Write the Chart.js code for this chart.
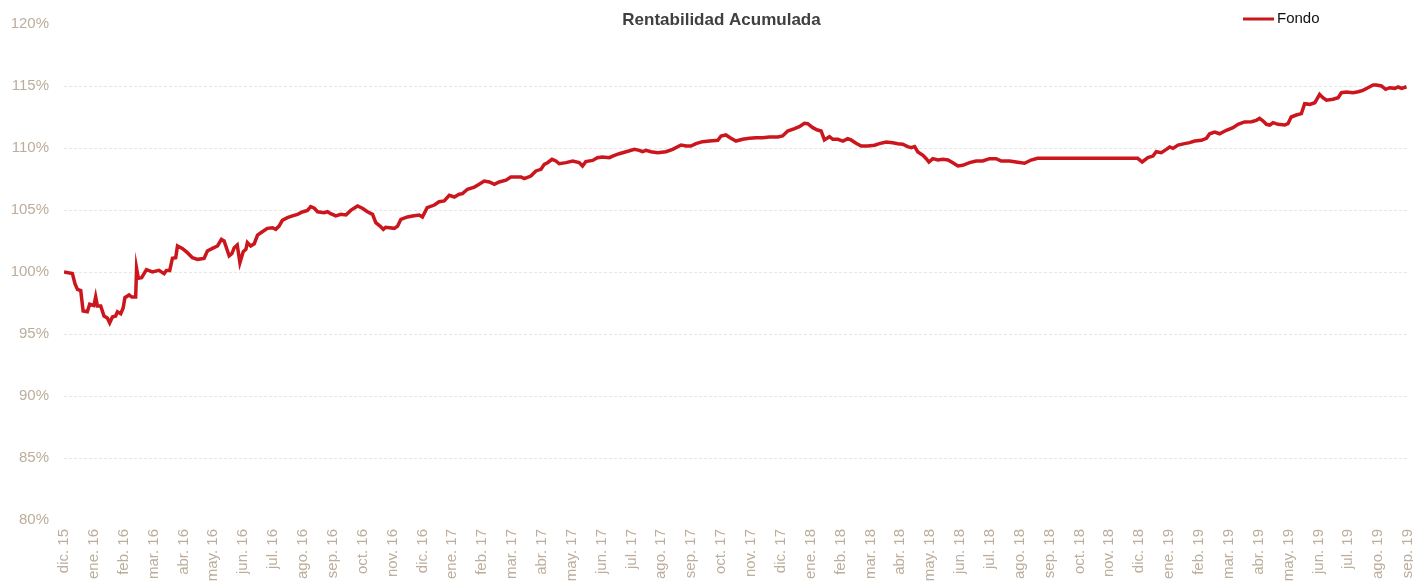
<!DOCTYPE html>
<html>
<head>
<meta charset="utf-8">
<title>Rentabilidad Acumulada</title>
<script src="https://cdn.jsdelivr.net/npm/chart.js@4.4.0/dist/chart.umd.min.js"></script>
<style>
    body { margin: 0; background: #fff; }
    #wrap { width: 1413px; height: 581px; }
</style>
</head>
<body>
<div id="wrap"><canvas id="grafico" width="1413" height="581"></canvas></div>
<script>
// Etiquetas del eje X (una por mes, desde dic. 15)
const etiquetas = [
    'dic. 15', 'ene. 16', 'feb. 16', 'mar. 16', 'abr. 16', 'may. 16', 'jun. 16', 'jul. 16',
    'ago. 16', 'sep. 16', 'oct. 16', 'nov. 16', 'dic. 16', 'ene. 17', 'feb. 17', 'mar. 17',
    'abr. 17', 'may. 17', 'jun. 17', 'jul. 17', 'ago. 17', 'sep. 17', 'oct. 17', 'nov. 17',
    'dic. 17', 'ene. 18', 'feb. 18', 'mar. 18', 'abr. 18', 'may. 18', 'jun. 18', 'jul. 18',
    'ago. 18', 'sep. 18', 'oct. 18', 'nov. 18', 'dic. 18', 'ene. 19', 'feb. 19', 'mar. 19',
    'abr. 19', 'may. 19', 'jun. 19', 'jul. 19', 'ago. 19', 'sep. 19'
];

// Posicion en meses desde dic. 15
const meses = [
    0.00, 0.28, 0.37, 0.45, 0.56, 0.64, 0.78, 0.86, 1.00, 1.06, 1.12, 1.23, 1.34, 1.45, 1.53, 1.62,
    1.73, 1.79, 1.90, 1.98, 2.04, 2.18, 2.27, 2.40, 2.43, 2.49, 2.60, 2.76, 2.96, 3.18, 3.35, 3.43,
    3.54, 3.63, 3.74, 3.80, 3.96, 4.13, 4.30, 4.47, 4.69, 4.80, 4.97, 5.14, 5.27, 5.36, 5.53, 5.62,
    5.70, 5.80, 5.89, 6.00, 6.09, 6.14, 6.25, 6.37, 6.48, 6.64, 6.81, 6.98, 7.09, 7.20, 7.31, 7.48,
    7.65, 7.82, 7.98, 8.15, 8.26, 8.38, 8.49, 8.71, 8.82, 8.93, 9.10, 9.27, 9.44, 9.60, 9.83, 9.99,
    10.16, 10.33, 10.44, 10.58, 10.69, 10.77, 11.06, 11.17, 11.28, 11.50, 11.67, 11.89, 12.00, 12.16, 12.40, 12.56,
    12.73, 12.90, 13.07, 13.23, 13.34, 13.51, 13.74, 13.90, 14.07, 14.24, 14.41, 14.57, 14.80, 14.96, 15.13, 15.30,
    15.41, 15.63, 15.80, 15.97, 16.08, 16.19, 16.34, 16.47, 16.58, 16.81, 17.03, 17.25, 17.36, 17.47, 17.70, 17.86,
    18.03, 18.26, 18.37, 18.59, 18.82, 19.10, 19.26, 19.37, 19.49, 19.65, 19.88, 20.15, 20.38, 20.66, 20.83, 20.99,
    21.16, 21.38, 21.61, 21.89, 22.00, 22.16, 22.33, 22.50, 22.72, 22.95, 23.17, 23.39, 23.62, 23.90, 24.06, 24.23,
    24.46, 24.62, 24.79, 24.90, 25.07, 25.23, 25.35, 25.46, 25.63, 25.74, 25.91, 26.08, 26.24, 26.35, 26.52, 26.69,
    26.91, 27.14, 27.30, 27.53, 27.75, 27.92, 28.08, 28.25, 28.37, 28.48, 28.59, 28.76, 28.87, 28.96, 29.09, 29.26,
    29.43, 29.60, 29.76, 29.93, 30.09, 30.32, 30.54, 30.76, 30.99, 31.21, 31.38, 31.66, 31.88, 32.16, 32.38, 32.60,
    35.95, 36.10, 36.29, 36.46, 36.57, 36.74, 36.91, 37.02, 37.13, 37.30, 37.52, 37.69, 37.86, 38.08, 38.25, 38.36,
    38.53, 38.69, 38.92, 39.14, 39.31, 39.53, 39.76, 39.92, 40.03, 40.15, 40.26, 40.37, 40.48, 40.65, 40.87, 40.98,
    41.09, 41.26, 41.43, 41.54, 41.71, 41.88, 42.04, 42.15, 42.27, 42.49, 42.66, 42.77, 42.94, 43.16, 43.33, 43.49,
    43.66, 43.83, 43.94, 44.11, 44.25, 44.39, 44.56, 44.67, 44.79, 44.95
];

// Rentabilidad acumulada del fondo (%)
const fondo = [
    100.00, 99.87, 99.03, 98.60, 98.50, 96.85, 96.80, 97.40, 97.30, 98.00, 97.25, 97.25, 96.45, 96.30, 95.90, 96.37,
    96.45, 96.80, 96.64, 97.10, 97.93, 98.15, 97.98, 97.98, 100.30, 99.50, 99.54, 100.19, 100.00, 100.13, 99.87, 100.13,
    100.13, 101.10, 101.15, 102.10, 101.90, 101.56, 101.15, 101.02, 101.10, 101.70, 101.90, 102.10, 102.63, 102.50, 101.30, 101.48,
    101.96, 102.18, 100.75, 101.64, 101.83, 102.37, 102.10, 102.28, 102.98, 103.25, 103.52, 103.57, 103.44, 103.70, 104.17, 104.38,
    104.52, 104.65, 104.84, 104.97, 105.27, 105.14, 104.86, 104.78, 104.86, 104.70, 104.52, 104.65, 104.60, 104.97, 105.32, 105.14,
    104.86, 104.65, 103.98, 103.70, 103.44, 103.60, 103.52, 103.70, 104.25, 104.44, 104.52, 104.60, 104.44, 105.19, 105.40, 105.67,
    105.73, 106.18, 106.05, 106.27, 106.32, 106.67, 106.85, 107.07, 107.34, 107.26, 107.07, 107.26, 107.40, 107.66, 107.66, 107.66,
    107.53, 107.74, 108.15, 108.28, 108.68, 108.81, 109.09, 108.95, 108.73, 108.82, 108.95, 108.82, 108.55, 108.90, 109.00, 109.22,
    109.27, 109.22, 109.35, 109.54, 109.70, 109.89, 109.81, 109.70, 109.81, 109.70, 109.62, 109.70, 109.89, 110.24, 110.16, 110.16,
    110.35, 110.51, 110.56, 110.62, 110.97, 111.05, 110.78, 110.56, 110.70, 110.78, 110.83, 110.83, 110.89, 110.89, 110.97, 111.37,
    111.56, 111.72, 111.99, 111.96, 111.64, 111.45, 111.37, 110.65, 110.91, 110.70, 110.70, 110.56, 110.75, 110.65, 110.38, 110.16,
    110.16, 110.22, 110.35, 110.48, 110.43, 110.35, 110.30, 110.11, 110.03, 110.11, 109.68, 109.41, 109.14, 108.87, 109.14, 109.03,
    109.09, 109.03, 108.81, 108.55, 108.60, 108.82, 108.95, 108.95, 109.14, 109.14, 108.95, 108.95, 108.87, 108.77, 109.03, 109.17,
    109.17, 108.87, 109.22, 109.35, 109.70, 109.62, 109.89, 110.08, 109.97, 110.24, 110.35, 110.43, 110.56, 110.62, 110.78, 111.15,
    111.29, 111.15, 111.43, 111.64, 111.91, 112.10, 112.12, 112.23, 112.39, 112.18, 111.91, 111.85, 112.04, 111.91, 111.85, 111.96,
    112.50, 112.66, 112.77, 113.57, 113.52, 113.65, 114.33, 114.06, 113.85, 113.93, 114.06, 114.46, 114.52, 114.46, 114.54, 114.65,
    114.86, 115.08, 115.08, 115.00, 114.73, 114.86, 114.81, 114.92, 114.81, 114.94
];

const tan = '#bcad9c';
const rojo = '#cc161d';
const fuente = "'Liberation Sans', Arial, sans-serif";

// Title and legend drawn on top, without taking layout space
const cabecera = {
    id: 'cabecera',
    afterDraw(chart) {
        const ctx = chart.ctx;
        ctx.save();
        ctx.textBaseline = 'middle';
        ctx.fillStyle = '#404040';
        ctx.font = 'bold 17px ' + fuente;
        ctx.textAlign = 'center';
        ctx.fillText('Rentabilidad Acumulada', chart.width / 2 + 15, 20);

        const ds = chart.data.datasets[0];
        ctx.strokeStyle = ds.borderColor;
        ctx.lineWidth = 3;
        ctx.beginPath();
        ctx.moveTo(1243, 19);
        ctx.lineTo(1274, 19);
        ctx.stroke();
        ctx.fillStyle = '#111';
        ctx.font = '15px ' + fuente;
        ctx.textAlign = 'left';
        ctx.fillText(ds.label, 1277, 19);
        ctx.restore();
    }
};

new Chart(document.getElementById('grafico'), {
    type: 'line',
    data: {
        datasets: [{
            label: 'Fondo',
            data: meses.map((m, i) => ({ x: m, y: fondo[i] })),
            borderColor: rojo,
            borderWidth: 3.5,
            pointRadius: 0,
            tension: 0,
            fill: false
        }]
    },
    options: {
        responsive: false,
        animation: false,
        layout: { padding: { top: 24, right: 5, left: 0, bottom: 0 } },
        plugins: {
            legend: { display: false },
            title: { display: false },
            tooltip: { enabled: false }
        },
        scales: {
            x: {
                type: 'linear',
                min: 0,
                max: 45,
                afterFit(scale) {
                    scale.height = 61;
                    scale.paddingLeft = 0;
                    scale.paddingRight = 0;
                },
                grid: { display: false, drawTicks: false },
                border: { display: false },
                ticks: {
                    stepSize: 1,
                    maxTicksLimit: 60,
                    autoSkip: false,
                    minRotation: 90,
                    maxRotation: 90,
                    padding: 9,
                    color: tan,
                    font: { family: fuente, size: 15 },
                    callback: v => etiquetas[v]
                }
            },
            y: {
                min: 80,
                max: 120,
                afterFit(scale) { scale.width = 64; },
                grid: {
                    drawTicks: false,
                    lineWidth: 1,
                    color: c => (c.tick && (c.tick.value === 80 || c.tick.value === 120)) ? 'rgba(0,0,0,0)' : '#e6e6e6'
                },
                border: { display: false, dash: [3, 2] },
                ticks: {
                    stepSize: 5,
                    padding: 15,
                    color: tan,
                    font: { family: fuente, size: 15 },
                    callback: v => v + '%'
                }
            }
        }
    },
    plugins: [cabecera]
});
</script>
</body>
</html>
